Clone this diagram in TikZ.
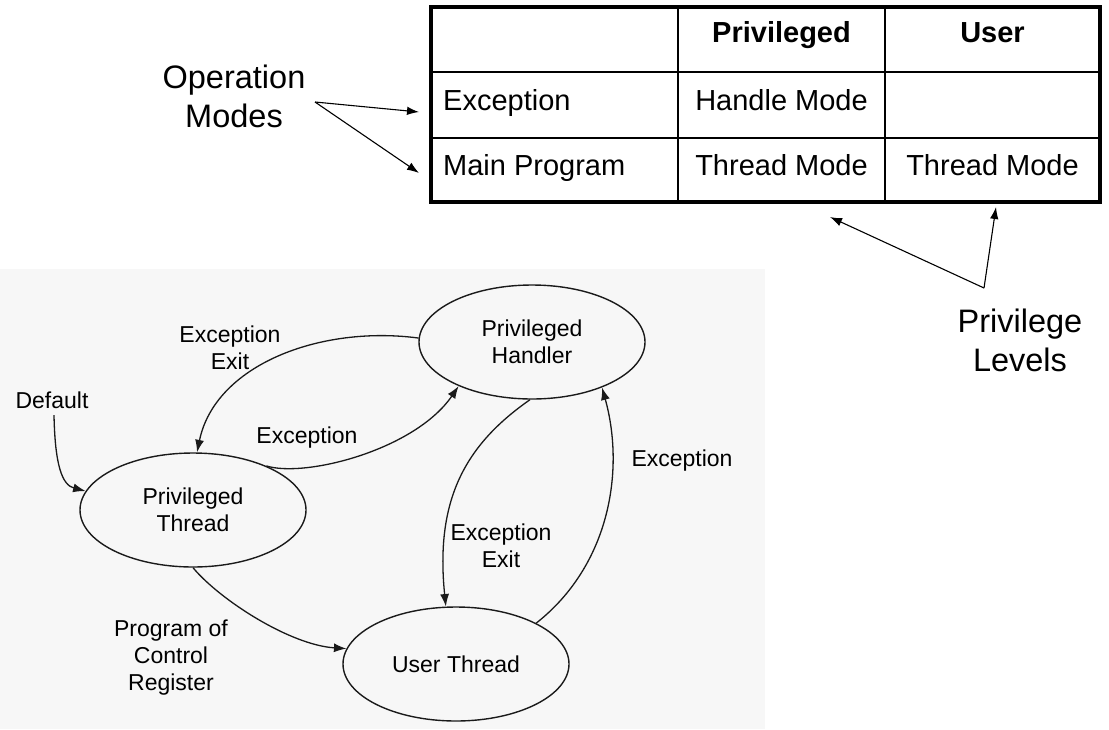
\documentclass[tikz,border=0pt]{standalone}
\usepackage{fontspec}
\setmainfont{Liberation Sans}
\usetikzlibrary{shapes.geometric,arrows.meta}
\definecolor{bgcol}{HTML}{F7F7F7}
\definecolor{ink}{HTML}{1A1A1A}
\begin{document}
\begin{tikzpicture}[x=1pt,y=1pt,
  state/.style={ellipse, draw=ink, line width=1.4pt, minimum width=226pt, minimum height=114pt, inner sep=0pt, align=center, font=\fontsize{23}{27}\selectfont},
  lbl/.style={align=center, font=\fontsize{23}{27}\selectfont, inner sep=0pt},
  big/.style={align=center, font=\fontsize{32.5}{39}\selectfont, inner sep=0pt},
  cell/.style={font=\fontsize{29}{34}\selectfont, inner sep=0pt, anchor=base},
  headcell/.style={cell, font=\fontsize{29}{34}\selectfont\bfseries},
  flow/.style={draw=ink, line width=1.3pt, -{Latex[length=12.5pt,width=9pt]}},
  pointer/.style={draw=black, line width=1.1pt, -{Latex[length=12pt,width=8.5pt]}}]

\useasboundingbox (0,0) rectangle (1109,-729);
\fill[bgcol] (0,-269) rectangle (765,-729);

% ---- table ----
\draw[line width=1.5pt] (430.5,-72) -- (1100,-72);
\draw[line width=1.5pt] (430.5,-138) -- (1100,-138);
\draw[line width=1.5pt] (678,-7) -- (678,-202);
\draw[line width=1.5pt] (885,-7) -- (885,-202);
\draw[line width=4pt] (430.5,-7) rectangle (1100,-202);

\node[headcell] (hpriv) at (781.5,-42) {Privileged};
\node[headcell] (huser) at (992.5,-42) {User};
\node[cell, anchor=base west] (rexc) at (443,-110) {Exception};
\node[cell] (hm) at (781.5,-110) {Handle Mode};
\node[cell, anchor=base west] (rmain) at (443,-175) {Main Program};
\node[cell] (tm1) at (781.5,-175) {Thread Mode};
\node[cell] (tm2) at (992.5,-175) {Thread Mode};

% ---- annotations ----
\node[big] (opm) at (234,-96) {Operation\\Modes};
\node[big] (prl) at (1020,-340.5) {Privilege\\Levels};
\coordinate (om) at (315,-102);
\coordinate (omA) at (419,-112);
\coordinate (omB) at (419,-173);
\coordinate (pl) at (984,-288);
\coordinate (plA) at (830,-217);
\coordinate (plB) at (996,-207);
\draw[pointer] (om) -- (omA);
\draw[pointer] (om) -- (omB);
\draw[pointer] (pl) -- (plA);
\draw[pointer] (pl) -- (plB);

% ---- state diagram ----
\node[state] (ph) at (532,-342) {Privileged\\Handler};
\node[state] (pt) at (193,-510) {Privileged\\Thread};
\node[state] (ut) at (456,-664) {User Thread};

\node[lbl] (ldef) at (52,-400.5) {Default};
\node[lbl] (lexx1) at (230,-347.5) {Exception\\Exit};
\node[lbl] (lexc1) at (307,-438) {Exception};
\node[lbl] (lexc2) at (682,-461) {Exception};
\node[lbl] (lexx2) at (501,-546) {Exception\\Exit};
\node[lbl] (lprog) at (171,-658) {Program of\\Control\\Register};

\draw[flow] (ldef.south) ++(2,-6) .. controls (55,-465) and (62,-485) .. (pt.170);
\draw[flow] (ph.178) .. controls (320,-325) and (215,-365) .. (pt.86);
\draw[flow] (pt.31) .. controls (305,-478) and (415,-450) .. (ph.211);
\draw[flow] (ph.268) .. controls (465,-445) and (435,-500) .. (ut.100);
\draw[flow] (ut.27) .. controls (610,-565) and (625,-470) .. (ph.327);
\draw[flow] (pt.270) .. controls (220,-600) and (290,-645) .. (ut.172);
\end{tikzpicture}
\end{document}
